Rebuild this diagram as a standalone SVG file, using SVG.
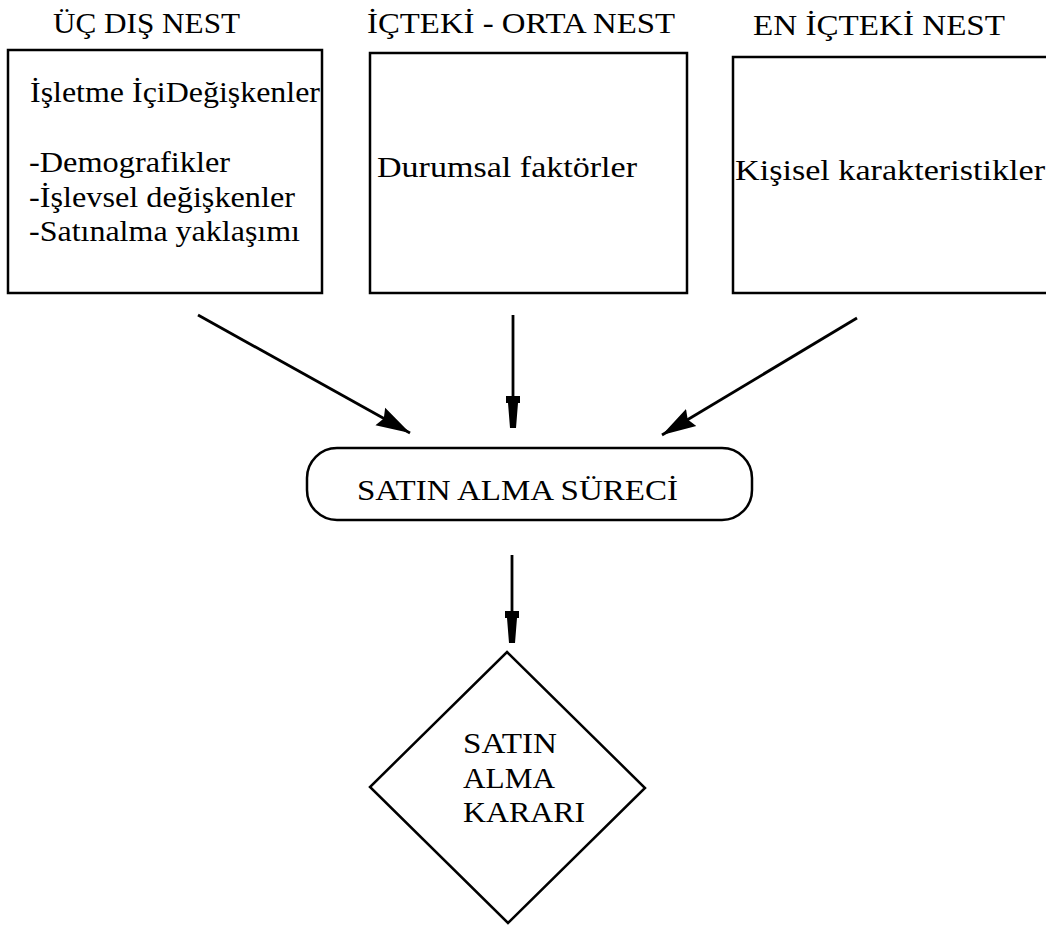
<svg xmlns="http://www.w3.org/2000/svg" width="1046" height="928" viewBox="0 0 1046 928">
  <style>
    .box { fill: #fff; stroke: #000; stroke-width: 2.5; }
    .lbl { font-family: "Liberation Serif", "Times New Roman", serif; font-size: 30px; fill: #000; }
    .link { fill: none; stroke: #000; stroke-width: 2.8; }
  </style>
  <defs>
    <marker id="head" viewBox="0 0 34 22" refX="34" refY="11" markerWidth="34" markerHeight="22" markerUnits="userSpaceOnUse" orient="auto">
      <path d="M0,1 L34,11 L0,21 L4,11 Z" fill="#000"/>
    </marker>
    <marker id="headV" viewBox="0 0 32 14" refX="32" refY="7" markerWidth="32" markerHeight="14" markerUnits="userSpaceOnUse" orient="auto">
      <path d="M0,0 L7,0 L7,2 L32,4 L32,10 L7,12 L7,14 L0,14 Z" fill="#000"/>
    </marker>
  </defs>

  <rect width="1046" height="928" fill="#fff"/>

  <!-- column titles -->
  <g id="titles">
    <text class="lbl" x="53" y="33" textLength="187" lengthAdjust="spacingAndGlyphs">ÜÇ DIŞ NEST</text>
    <text class="lbl" x="367" y="33" textLength="308" lengthAdjust="spacingAndGlyphs">İÇTEKİ - ORTA NEST</text>
    <text class="lbl" x="753" y="35" textLength="252" lengthAdjust="spacingAndGlyphs">EN İÇTEKİ NEST</text>
  </g>

  <!-- outer nest -->
  <g id="outer-nest">
    <rect class="box" x="8" y="50" width="314" height="243"/>
    <text class="lbl" x="30" y="102" textLength="290" lengthAdjust="spacingAndGlyphs">İşletme İçiDeğişkenler</text>
    <text class="lbl" x="29" y="172" textLength="201" lengthAdjust="spacingAndGlyphs">-Demografikler</text>
    <text class="lbl" x="29" y="207" textLength="266" lengthAdjust="spacingAndGlyphs">-İşlevsel değişkenler</text>
    <text class="lbl" x="29" y="241" textLength="271" lengthAdjust="spacingAndGlyphs">-Satınalma yaklaşımı</text>
  </g>

  <!-- middle nest -->
  <g id="middle-nest">
    <rect class="box" x="370" y="53" width="317" height="240"/>
    <text class="lbl" x="377" y="177" textLength="260" lengthAdjust="spacingAndGlyphs">Durumsal faktörler</text>
  </g>

  <!-- innermost nest -->
  <g id="inner-nest">
    <rect class="box" x="733" y="57" width="330" height="236"/>
    <text class="lbl" x="735" y="180" textLength="310" lengthAdjust="spacingAndGlyphs">Kişisel karakteristikler</text>
  </g>

  <!-- purchasing process -->
  <g id="process">
    <rect class="box" x="307" y="448" width="445" height="72" rx="30" ry="30"/>
    <text class="lbl" x="357" y="500" textLength="321" lengthAdjust="spacingAndGlyphs">SATIN ALMA SÜRECİ</text>
  </g>

  <!-- purchasing decision -->
  <g id="decision">
    <polygon class="box" points="507,652 645,788 508,923 370,787"/>
    <text class="lbl" x="463" y="753" textLength="94" lengthAdjust="spacingAndGlyphs">SATIN</text>
    <text class="lbl" x="463" y="788" textLength="92" lengthAdjust="spacingAndGlyphs">ALMA</text>
    <text class="lbl" x="463" y="822" textLength="122" lengthAdjust="spacingAndGlyphs">KARARI</text>
  </g>

  <!-- connectors -->
  <g id="connectors">
    <line class="link" x1="198" y1="315" x2="410" y2="433" marker-end="url(#head)"/>
    <line class="link" x1="513" y1="315" x2="513" y2="428" marker-end="url(#headV)"/>
    <line class="link" x1="857" y1="318" x2="662" y2="435" marker-end="url(#head)"/>
    <line class="link" x1="512" y1="555" x2="512" y2="643" marker-end="url(#headV)"/>
  </g>
</svg>
